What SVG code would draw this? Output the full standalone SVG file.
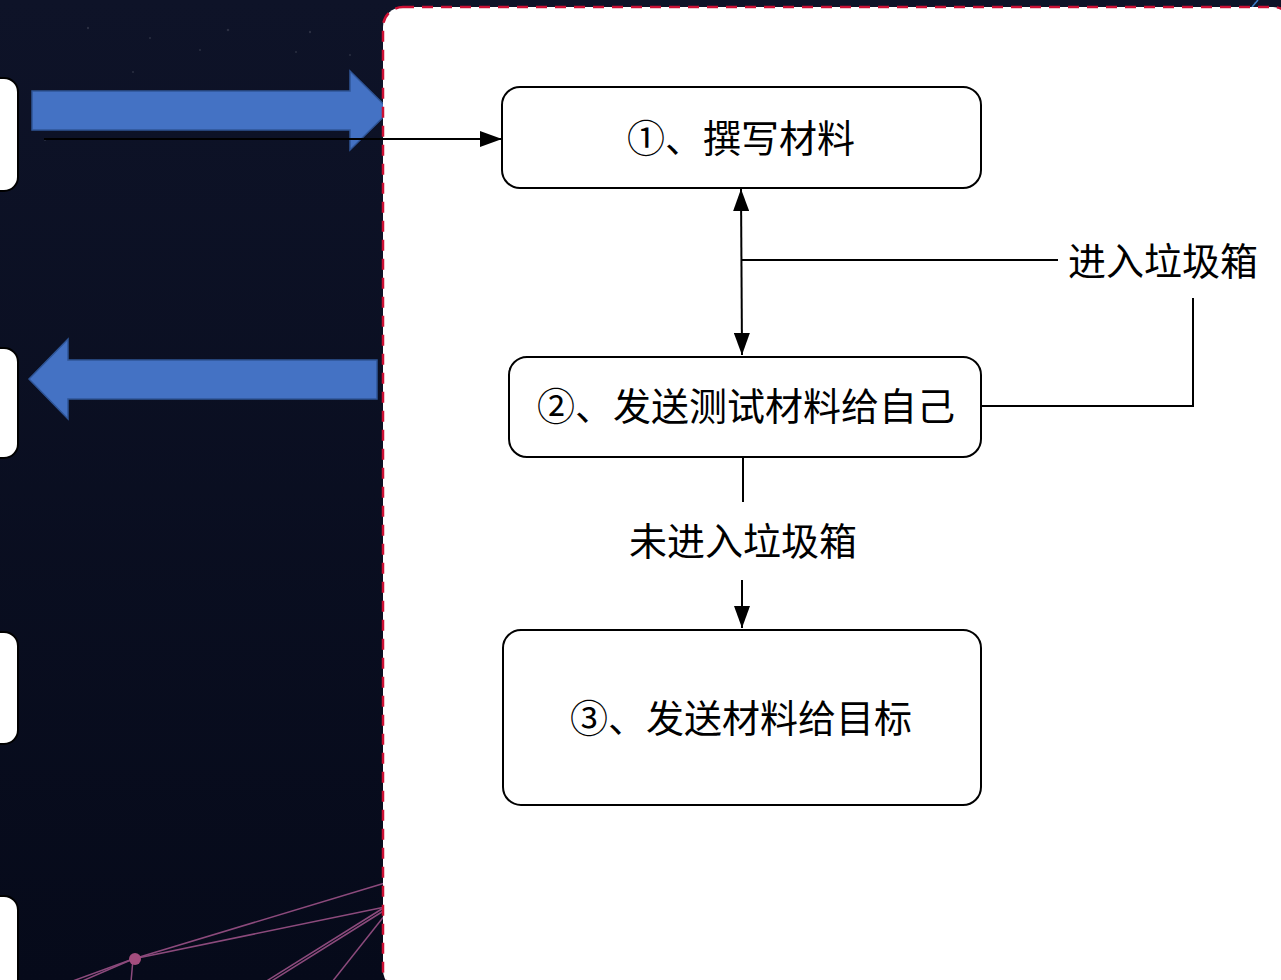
<svg xmlns="http://www.w3.org/2000/svg" width="1281" height="980" viewBox="0 0 1281 980">
  <defs>
    <linearGradient id="bg" x1="0" y1="0" x2="0" y2="1">
      <stop offset="0" stop-color="#0e1328"/>
      <stop offset="1" stop-color="#060a1a"/>
    </linearGradient>
    <marker id="arr" viewBox="0 0 22 16" refX="22" refY="8" markerWidth="22" markerHeight="16" markerUnits="userSpaceOnUse" orient="auto-start-reverse">
      <path d="M0,0 L22,8 L0,16 z" fill="#000"/>
    </marker>
    <style>
      .side { fill: #ffffff; stroke: #000; stroke-width: 2; }
      .blue { fill: #4472c4; stroke: #2f5597; stroke-width: 1.5; }
      .node { fill: #ffffff; stroke: #000; stroke-width: 2; }
      .lbl { font-family: "Noto Sans CJK SC", "Noto Sans", sans-serif; font-size: 38px; fill: #000; text-anchor: middle; }
      .conn { fill: none; stroke: #000; stroke-width: 2; }
      .web { stroke: #8c4a7c; stroke-width: 1.5; fill: none; }
      .star { fill: #ffffff; opacity: 0.12; }
    </style>
  </defs>

  <g id="background">
    <rect x="0" y="0" width="1281" height="980" fill="url(#bg)"/>
    <circle class="star" cx="88" cy="28" r="1.2"/>
    <circle class="star" cx="150" cy="38" r="1"/>
    <circle class="star" cx="228" cy="30" r="1.3"/>
    <circle class="star" cx="296" cy="52" r="1"/>
    <circle class="star" cx="310" cy="32" r="1.2"/>
    <circle class="star" cx="200" cy="50" r="1"/>
    <circle class="star" cx="350" cy="55" r="1"/>
    <circle class="star" cx="45" cy="140" r="1"/>
    <circle class="star" cx="133" cy="72" r="1"/>
    <circle class="star" cx="1255" cy="3" r="1"/>
    <line x1="1252" y1="7" x2="1258" y2="0" stroke="#3a7bc8" stroke-width="1.5"/>
    <g id="web">
      <line class="web" x1="133" y1="959" x2="385" y2="883"/>
      <line class="web" x1="133" y1="959" x2="385" y2="907"/>
      <line class="web" x1="133" y1="959" x2="70" y2="982"/>
      <line class="web" x1="133" y1="959" x2="80" y2="982"/>
      <line class="web" x1="133" y1="959" x2="131" y2="982"/>
      <line class="web" x1="385" y1="907" x2="265" y2="982"/>
      <line class="web" x1="385" y1="910" x2="270" y2="982"/>
      <line class="web" x1="385" y1="915" x2="332" y2="982"/>
      <circle cx="135" cy="959" r="6" fill="#a44d7e"/>
    </g>
  </g>

  <g id="side-boxes">
    <rect class="side" x="-22" y="78" width="40" height="113" rx="14"/>
    <rect class="side" x="-22" y="348" width="40" height="110" rx="14"/>
    <rect class="side" x="-22" y="632" width="40" height="112" rx="14"/>
    <rect class="side" x="-22" y="896" width="40" height="110" rx="14"/>
  </g>

  <g id="blue-arrows">
    <polygon class="blue" points="32,91 350,91 350,71 390,110.5 350,150 350,130 32,130"/>
    <polygon class="blue" points="29,379 68,339 68,360 377,360 377,399 68,399 68,419"/>
  </g>

  <g id="panel">
    <rect x="383" y="7" width="910" height="983" rx="20" fill="#ffffff" stroke="#cc1034" stroke-width="2.5" stroke-dasharray="11 8"/>
  </g>

  <g id="node1">
    <rect class="node" x="502" y="87" width="479" height="101" rx="18"/>
    <text class="lbl" x="741" y="152">①、撰写材料</text>
  </g>
  <g id="node2">
    <rect class="node" x="509" y="357" width="472" height="100" rx="18"/>
    <text class="lbl" x="746" y="420">②、发送测试材料给自己</text>
  </g>
  <g id="node3">
    <rect class="node" x="503" y="630" width="478" height="175" rx="18"/>
    <text class="lbl" x="741" y="732">③、发送材料给目标</text>
  </g>

  <g id="connectors">
    <line class="conn" x1="44" y1="139" x2="502" y2="139" marker-end="url(#arr)"/>
    <line class="conn" x1="741" y1="189" x2="742" y2="355" marker-start="url(#arr)" marker-end="url(#arr)"/>
    <line class="conn" x1="741" y1="260" x2="1058" y2="260"/>
    <polyline class="conn" points="1193,298 1193,406 980,406"/>
    <text class="lbl" x="1163" y="275">进入垃圾箱</text>
    <line class="conn" x1="743" y1="457" x2="743" y2="502"/>
    <text class="lbl" x="743" y="555">未进入垃圾箱</text>
    <line class="conn" x1="742" y1="580" x2="742" y2="628" marker-end="url(#arr)"/>
  </g>
</svg>
